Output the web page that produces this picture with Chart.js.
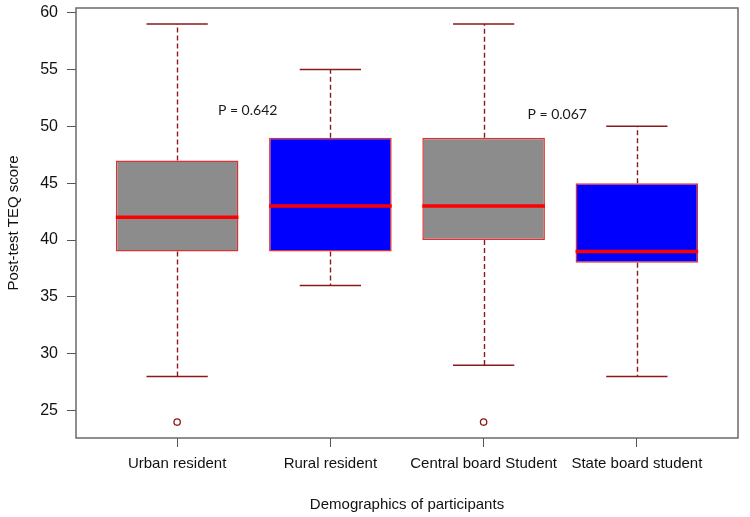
<!DOCTYPE html>
<html>
<head>
<meta charset="utf-8">
<script src="https://cdn.jsdelivr.net/npm/chart.js@4"></script>
<style>
  html, body { margin: 0; padding: 0; background: #ffffff; }
  #wrap { width: 750px; height: 517px; position: relative; }
</style>
</head>
<body>
<div id="wrap"><canvas id="c" width="750" height="517"></canvas></div>
<script>
// ---- data ----
const categories = ["Urban resident", "Rural resident", "Central board Student", "State board student"];
const whiskerLow  = [28, 36, 29, 28];
const q1          = [39, 39, 40, 38];
const medians     = [42, 43, 43, 39];
const q3          = [47, 49, 49, 45];
const whiskerHigh = [59, 55, 59, 50];
const outlierGroup = [1, 3];
const outlierValue = [24, 24];
const yTicks = [25, 30, 35, 40, 45, 50, 55, 60];
const pLabels = ["P = 0.642", "P = 0.067"];
const pLabelX = [1.46, 3.48];
const pLabelY = [51.4, 51.0];

const boxFill = ["#8c8c8c", "#0000ff", "#8c8c8c", "#0000ff"];
const boxBorder = "#e03030";
const medianColor = "#ff0000";
const whiskerColor = "#8b1a1a";
const frameColor = "#6a6a6a";

const boxPlugin = {
  id: 'boxparts',
  beforeDatasetsDraw(chart) {
    const {ctx, scales: {x, y}} = chart;
    ctx.save();
    ctx.strokeStyle = whiskerColor;
    ctx.lineWidth = 1.4;
    for (let i = 0; i < categories.length; i++) {
      const cx = Math.round(x.getPixelForValue(i + 1)) + 0.5;
      ctx.setLineDash([5, 3]);
      ctx.beginPath();
      ctx.moveTo(cx, y.getPixelForValue(q3[i]));
      ctx.lineTo(cx, y.getPixelForValue(whiskerHigh[i]));
      ctx.moveTo(cx, y.getPixelForValue(q1[i]));
      ctx.lineTo(cx, y.getPixelForValue(whiskerLow[i]));
      ctx.stroke();
      ctx.setLineDash([]);
      const xl = x.getPixelForValue(i + 1 - 0.2);
      const xr = x.getPixelForValue(i + 1 + 0.2);
      ctx.beginPath();
      ctx.moveTo(xl, y.getPixelForValue(whiskerHigh[i]));
      ctx.lineTo(xr, y.getPixelForValue(whiskerHigh[i]));
      ctx.moveTo(xl, y.getPixelForValue(whiskerLow[i]));
      ctx.lineTo(xr, y.getPixelForValue(whiskerLow[i]));
      ctx.stroke();
    }
    ctx.restore();
  },
  afterDatasetsDraw(chart) {
    const {ctx, scales: {x, y}, chartArea} = chart;
    ctx.save();
    ctx.strokeStyle = medianColor;
    ctx.lineWidth = 3.5;
    for (let i = 0; i < categories.length; i++) {
      const xl = x.getPixelForValue(i + 1 - 0.4);
      const xr = x.getPixelForValue(i + 1 + 0.4);
      const my = y.getPixelForValue(medians[i]);
      ctx.beginPath();
      ctx.moveTo(xl, my);
      ctx.lineTo(xr, my);
      ctx.stroke();
    }
    ctx.fillStyle = "#1a1a1a";
    ctx.font = "14px Lato, 'Liberation Sans', sans-serif";
    ctx.textAlign = "center";
    ctx.textBaseline = "middle";
    for (let i = 0; i < pLabels.length; i++) {
      ctx.fillText(pLabels[i], x.getPixelForValue(pLabelX[i]), y.getPixelForValue(pLabelY[i]));
    }
    ctx.strokeStyle = frameColor;
    ctx.lineWidth = 1.5;
    ctx.strokeRect(chartArea.left, chartArea.top, chartArea.right - chartArea.left, chartArea.bottom - chartArea.top);
    ctx.restore();
  }
};

const chart = new Chart(document.getElementById('c'), {
  type: 'bar',
  data: {
    datasets: [
      {
        type: 'bar',
        data: categories.map((c, i) => ({x: i + 1, y: [q1[i], q3[i]]})),
        backgroundColor: boxFill,
        borderColor: boxBorder,
        borderWidth: 1.5,
        borderSkipped: false,
        barPercentage: 0.8,
        categoryPercentage: 1,
        grouped: false
      },
      {
        type: 'scatter',
        data: outlierGroup.map((g, i) => ({x: g, y: outlierValue[i]})),
        pointStyle: 'circle',
        pointRadius: 3.2,
        borderColor: whiskerColor,
        borderWidth: 1.3,
        backgroundColor: 'rgba(0,0,0,0)'
      }
    ]
  },
  options: {
    responsive: false,
    animation: false,
    layout: { padding: { top: 8, right: 12, left: 0, bottom: 0 } },
    plugins: { legend: { display: false }, tooltip: { enabled: false } },
    scales: {
      x: {
        type: 'linear',
        min: 0.34,
        max: 4.66,
        offset: false,
        afterBuildTicks(scale) { scale.ticks = categories.map((c, i) => ({value: i + 1})); },
        afterFit(scale) { scale.height = 79; scale.paddingLeft = 0; scale.paddingRight = 0; },
        ticks: {
          callback: (v) => categories[v - 1],
          font: { family: "'Liberation Sans', Arial, sans-serif", size: 15 },
          color: '#111111',
          padding: 8,
          maxRotation: 0,
          autoSkip: false
        },
        grid: { display: true, drawOnChartArea: false, drawTicks: true, tickLength: 9, color: '#555555', offset: false },
        border: { display: false },
        title: {
          display: true,
          text: 'Demographics of participants',
          font: { family: "'Liberation Sans', Arial, sans-serif", size: 15 },
          color: '#111111',
          padding: { top: 0, bottom: 3 }
        }
      },
      y: {
        min: 22.6,
        max: 60.4,
        afterBuildTicks(scale) { scale.ticks = yTicks.map(v => ({value: v})); },
        afterFit(scale) { scale.width = 76; scale.paddingTop = 0; scale.paddingBottom = 0; },
        ticks: {
          font: { family: "'Liberation Sans', Arial, sans-serif", size: 16 },
          color: '#111111',
          padding: 9
        },
        grid: { display: true, drawOnChartArea: false, drawTicks: true, tickLength: 9, color: '#555555' },
        border: { display: false },
        title: {
          display: true,
          text: 'Post-test TEQ score',
          font: { family: "'Liberation Sans', Arial, sans-serif", size: 15 },
          color: '#111111',
          padding: { top: 5, bottom: 0 }
        }
      }
    }
  },
  plugins: [boxPlugin]
});
</script>
</body>
</html>
